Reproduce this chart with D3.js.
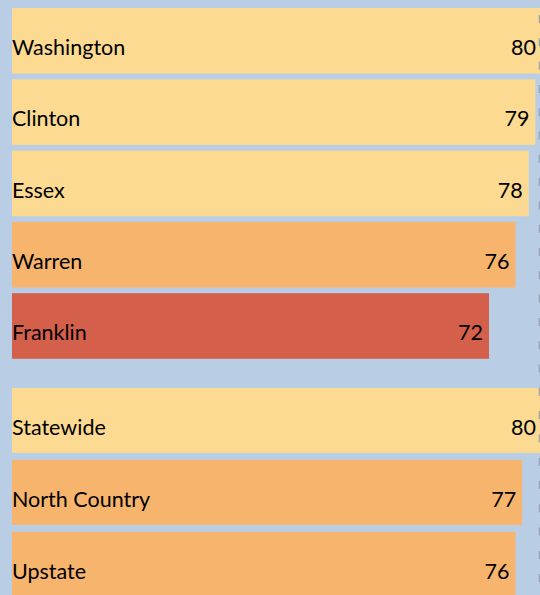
<!DOCTYPE html>
<html>
<head>
<meta charset="utf-8">
<script src="https://cdn.jsdelivr.net/npm/d3@7"></script>
<style>
  html, body { margin: 0; padding: 0; background: #b9cde4; }
  svg { display: block; }
</style>
</head>
<body>
<svg id="chart" width="540" height="595"></svg>
<script>
// County scores
const counties = ["Washington", "Clinton", "Essex", "Warren", "Franklin"];
const countyValues = [80, 79, 78, 76, 72];

// Regional comparison scores
const regions = ["Statewide", "North Country", "Upstate"];
const regionValues = [80, 77, 76];

const width = 540, height = 595;
const svg = d3.select("#chart");

svg.append("rect")
  .attr("width", width).attr("height", height)
  .attr("fill", "#b9cde4");

const x = d3.scaleLinear().domain([0, 80]).range([12, 542]);

// Fill by score band
const color = d3.scaleThreshold()
  .domain([73, 78])
  .range(["#d45f4b", "#f7b46c", "#fcda91"]);

const yCounties = d3.scaleBand()
  .domain(counties)
  .range([8, 358.8])
  .paddingInner(0.08);

const yRegions = d3.scaleBand()
  .domain(regions)
  .range([388, 596.8])
  .paddingInner(0.097);

const font = "Lato, 'Open Sans', sans-serif";
const fontSize = 21.5;

function drawGroup(names, values, y) {
  const data = names.map((n, i) => ({ name: n, value: values[i] }));
  const g = svg.append("g");
  const row = g.selectAll("g").data(data).join("g");
  row.append("rect")
    .attr("x", x(0))
    .attr("y", d => y(d.name))
    .attr("width", d => x(d.value) - x(0))
    .attr("height", y.bandwidth())
    .attr("fill", d => color(d.value));
  row.append("text")
    .attr("x", x(0))
    .attr("y", d => y(d.name) + 47)
    .attr("font-family", font)
    .attr("font-size", fontSize)
    .attr("fill", "#000")
    .text(d => d.name);
  row.append("text")
    .attr("x", d => x(d.value) - 6)
    .attr("y", d => y(d.name) + 47)
    .attr("text-anchor", "end")
    .attr("font-family", font)
    .attr("font-size", fontSize)
    .attr("fill", "#000")
    .text(d => d.value);
}

drawGroup(counties, countyValues, yCounties);
drawGroup(regions, regionValues, yRegions);

// Dashed reference line along the right edge
svg.append("line")
  .attr("x1", 539.5).attr("x2", 539.5)
  .attr("y1", 15).attr("y2", height)
  .attr("stroke", "#98a4b6")
  .attr("stroke-width", 1.5)
  .attr("stroke-dasharray", "8,15.3");
</script>
</body>
</html>
